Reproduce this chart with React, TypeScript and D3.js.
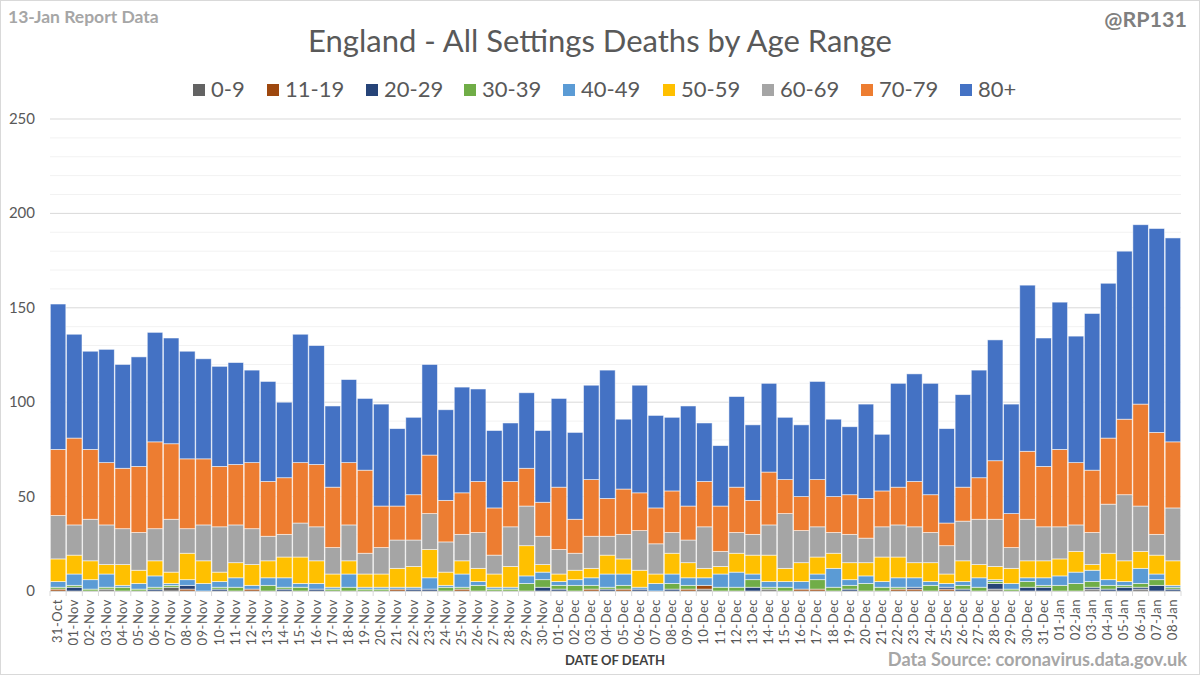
import * as d3 from "d3";
import { useEffect, useRef } from "react";

const dates = [
  "31-Oct", "01-Nov", "02-Nov", "03-Nov", "04-Nov", "05-Nov", "06-Nov", "07-Nov", "08-Nov", "09-Nov",
  "10-Nov", "11-Nov", "12-Nov", "13-Nov", "14-Nov", "15-Nov", "16-Nov", "17-Nov", "18-Nov", "19-Nov",
  "20-Nov", "21-Nov", "22-Nov", "23-Nov", "24-Nov", "25-Nov", "26-Nov", "27-Nov", "28-Nov", "29-Nov",
  "30-Nov", "01-Dec", "02-Dec", "03-Dec", "04-Dec", "05-Dec", "06-Dec", "07-Dec", "08-Dec", "09-Dec",
  "10-Dec", "11-Dec", "12-Dec", "13-Dec", "14-Dec", "15-Dec", "16-Dec", "17-Dec", "18-Dec", "19-Dec",
  "20-Dec", "21-Dec", "22-Dec", "23-Dec", "24-Dec", "25-Dec", "26-Dec", "27-Dec", "28-Dec", "29-Dec",
  "30-Dec", "31-Dec", "01-Jan", "02-Jan", "03-Jan", "04-Jan", "05-Jan", "06-Jan", "07-Jan", "08-Jan",
];

const ages = ["0-9", "11-19", "20-29", "30-39", "40-49", "50-59", "60-69", "70-79", "80+"];
const colors = ["#636363", "#9E480E", "#264478", "#70AD47", "#5B9BD5", "#FFC000", "#A5A5A5", "#ED7D31", "#4472C4"];

const age0 = [0,0,0,1,0,0,0,2,0,0, 0,0,0,0,0,0,0,0,0,0, 0,0,0,0,0,0,0,0,0,0, 0,0,0,0,0,0,0,0,0,0, 1,0,0,0,1,0,0,0,0,0, 0,0,0,0,0,0,0,0,1,0, 0,0,0,0,1,0,0,1,0,0];
const age11 = [1,0,0,0,0,0,0,0,1,0, 0,0,1,0,0,0,0,0,0,0, 0,1,0,0,0,1,0,0,0,0, 0,0,0,1,0,1,0,0,0,1, 2,0,0,0,0,0,1,1,0,0, 0,0,1,1,0,1,0,0,0,0, 0,0,0,0,0,0,0,0,0,0];
const age20 = [0,2,0,0,0,0,1,0,2,0, 1,0,0,0,1,0,1,0,0,0, 0,0,1,1,0,0,0,0,0,0, 2,1,0,0,1,0,1,0,1,0, 0,0,0,2,0,0,0,0,0,1, 0,0,0,1,0,1,1,0,3,0, 2,2,0,0,1,1,2,1,3,1];
const age30 = [1,1,1,1,2,1,1,1,0,0, 1,2,0,3,1,2,0,1,2,1, 1,0,0,0,2,1,3,1,1,4, 4,2,3,2,1,2,0,0,3,2, 0,2,2,4,1,2,0,5,2,2, 4,2,1,0,3,0,2,2,1,1, 3,1,3,4,3,2,1,2,3,1];
const age40 = [3,6,5,7,1,3,6,1,3,4, 3,5,2,4,5,2,3,1,7,1, 1,1,1,6,1,7,2,1,1,4, 4,2,3,4,7,6,1,4,5,4, 4,7,8,3,3,3,4,3,10,3, 4,3,5,5,2,2,2,5,1,3, 2,4,5,6,6,3,2,8,3,1];
const age50 = [12,10,10,5,11,7,8,6,14,12, 5,8,11,9,11,14,12,7,7,7, 7,10,11,15,7,7,7,7,11,16, 4,4,5,5,10,8,9,5,11,8, 5,4,10,10,14,7,10,9,8,9, 7,13,11,8,10,5,11,7,7,8, 9,9,9,11,3,14,11,9,10,13];
const age60 = [23,16,22,21,19,20,17,28,13,19, 24,20,19,13,12,18,18,14,19,11, 14,15,14,19,16,14,19,10,21,21, 15,13,9,17,10,13,21,16,11,12, 22,8,11,11,16,29,17,16,11,15, 13,16,17,19,16,15,21,24,25,11, 22,18,17,14,17,26,35,24,11,28];
const age70 = [35,46,37,33,32,35,46,40,37,35, 32,32,35,29,30,32,33,32,33,44, 22,18,24,31,22,22,27,25,24,20, 18,33,18,30,20,24,20,19,22,18, 24,24,24,18,28,18,18,25,19,21, 21,19,20,24,20,12,18,22,31,18, 36,32,41,33,33,35,40,54,54,35];
const age80 = [77,55,52,60,55,58,58,56,57,53, 53,54,49,53,40,68,63,43,44,38, 54,41,41,48,48,56,49,41,31,40, 38,47,46,50,68,37,57,49,39,53, 31,32,48,40,47,33,38,52,41,36, 50,30,55,57,59,50,49,57,64,58, 88,68,78,67,83,82,89,95,108,108];

const series = [age0, age11, age20, age30, age40, age50, age60, age70, age80];
const yTicks = [0, 50, 100, 150, 200, 250];

const W = 1200;
const H = 675;
const margin = { left: 50, right: 19, top: 119, bottom: 84 };
const font = "Lato, 'Open Sans', sans-serif";

export default function App() {
  const svgRef = useRef<SVGSVGElement>(null);

  useEffect(() => {
    const svg = d3.select(svgRef.current);
    svg.selectAll("*").remove();

    const rows = dates.map((d, i) => {
      const r: any = { date: d };
      ages.forEach((a, k) => (r[a] = series[k][i]));
      return r;
    });
    const stacked = d3.stack().keys(ages)(rows);

    const x = d3
      .scaleBand()
      .domain(dates)
      .range([margin.left, W - margin.right])
      .paddingInner(0.04)
      .paddingOuter(0.02);
    const y = d3
      .scaleLinear()
      .domain([0, 250])
      .range([H - margin.bottom, margin.top]);

    svg.append("rect").attr("x", 0.5).attr("y", 0.5).attr("width", W - 1).attr("height", H - 1)
      .attr("fill", "#fff").attr("stroke", "#d9d9d9");

    // minor gridlines every 10
    svg.append("g").selectAll("line")
      .data(d3.range(10, 251, 10).filter((v) => v % 50 !== 0))
      .join("line")
      .attr("x1", margin.left).attr("x2", W - margin.right)
      .attr("y1", (d) => y(d)).attr("y2", (d) => y(d))
      .attr("stroke", "#f2f2f2").attr("stroke-width", 1);

    svg.append("g").selectAll("line")
      .data(yTicks.slice(1))
      .join("line")
      .attr("x1", margin.left).attr("x2", W - margin.right)
      .attr("y1", (d) => y(d)).attr("y2", (d) => y(d))
      .attr("stroke", "#d9d9d9").attr("stroke-width", 1);

    svg.append("g").selectAll("text")
      .data(yTicks)
      .join("text")
      .attr("x", 35).attr("y", (d) => y(d) + 5)
      .attr("text-anchor", "end")
      .attr("font-family", font).attr("font-size", 15)
      .attr("fill", "#595959")
      .text((d) => d);

    // bars
    svg.append("g").selectAll("g")
      .data(stacked)
      .join("g")
      .attr("fill", (_, i) => colors[i])
      .selectAll("rect")
      .data((s) => s.filter((p) => p[1] - p[0] > 0))
      .join("rect")
      .attr("x", (p: any) => x(p.data.date)!)
      .attr("width", x.bandwidth())
      .attr("y", (p) => y(p[1]))
      .attr("height", (p) => y(p[0]) - y(p[1]))
      .attr("stroke", "rgba(255,255,255,0.65)")
      .attr("stroke-width", 0.8);

    // x axis
    const base = y(0);
    svg.append("line")
      .attr("x1", margin.left).attr("x2", W - margin.right)
      .attr("y1", base + 0.5).attr("y2", base + 0.5)
      .attr("stroke", "#d9d9d9");
    const step = x.step();
    svg.append("g").selectAll("line")
      .data(dates.concat([""]))
      .join("line")
      .attr("x1", (_, i) => margin.left + i * step)
      .attr("x2", (_, i) => margin.left + i * step)
      .attr("y1", base).attr("y2", base + 5)
      .attr("stroke", "#d9d9d9");

    svg.append("g").selectAll("text")
      .data(dates)
      .join("text")
      .attr("transform", (d) => `translate(${x(d)! + x.bandwidth() / 2 + 4},${base + 8}) rotate(-90)`)
      .attr("text-anchor", "end")
      .attr("font-family", font).attr("font-size", 13)
      .attr("letter-spacing", 0.5)
      .attr("fill", "#595959")
      .text((d) => d);

    svg.append("text")
      .attr("x", 615).attr("y", 665)
      .attr("text-anchor", "middle")
      .attr("font-family", font).attr("font-size", 13).attr("font-weight", "bold")
      .attr("fill", "#404040")
      .text("DATE OF DEATH");

    // title and notes
    svg.append("text")
      .attr("x", 600).attr("y", 52)
      .attr("text-anchor", "middle")
      .attr("font-family", font).attr("font-size", 31)
      .attr("fill", "#595959")
      .text("England - All Settings Deaths by Age Range");

    svg.append("text")
      .attr("x", 8).attr("y", 23)
      .attr("font-family", font).attr("font-size", 17.5).attr("font-weight", "bold")
      .attr("fill", "#a6a6a6")
      .text("13-Jan Report Data");

    svg.append("text")
      .attr("x", 1187).attr("y", 27)
      .attr("text-anchor", "end")
      .attr("font-family", font).attr("font-size", 21.5).attr("font-weight", "bold")
      .attr("fill", "#7f7f7f")
      .text("@RP131");

    svg.append("text")
      .attr("x", 1187).attr("y", 666)
      .attr("text-anchor", "end")
      .attr("font-family", font).attr("font-size", 18.2).attr("font-weight", "bold")
      .attr("fill", "#a6a6a6")
      .text("Data Source: coronavirus.data.gov.uk");

    // legend
    const legendX = [193, 267, 366, 464, 563, 663, 762, 861, 960];
    const lg = svg.append("g").selectAll("g")
      .data(ages)
      .join("g")
      .attr("transform", (_, i) => `translate(${legendX[i]},84)`);
    lg.append("rect").attr("width", 12).attr("height", 12).attr("fill", (_, i) => colors[i]);
    lg.append("text")
      .attr("x", 18).attr("y", 13)
      .attr("font-family", font).attr("font-size", 22)
      .attr("fill", "#595959")
      .text((d) => d);
  }, []);

  return (
    <div style={{ position: "absolute", left: 0, top: 0 }}>
      <svg ref={svgRef} width={W} height={H}></svg>
    </div>
  );
}
